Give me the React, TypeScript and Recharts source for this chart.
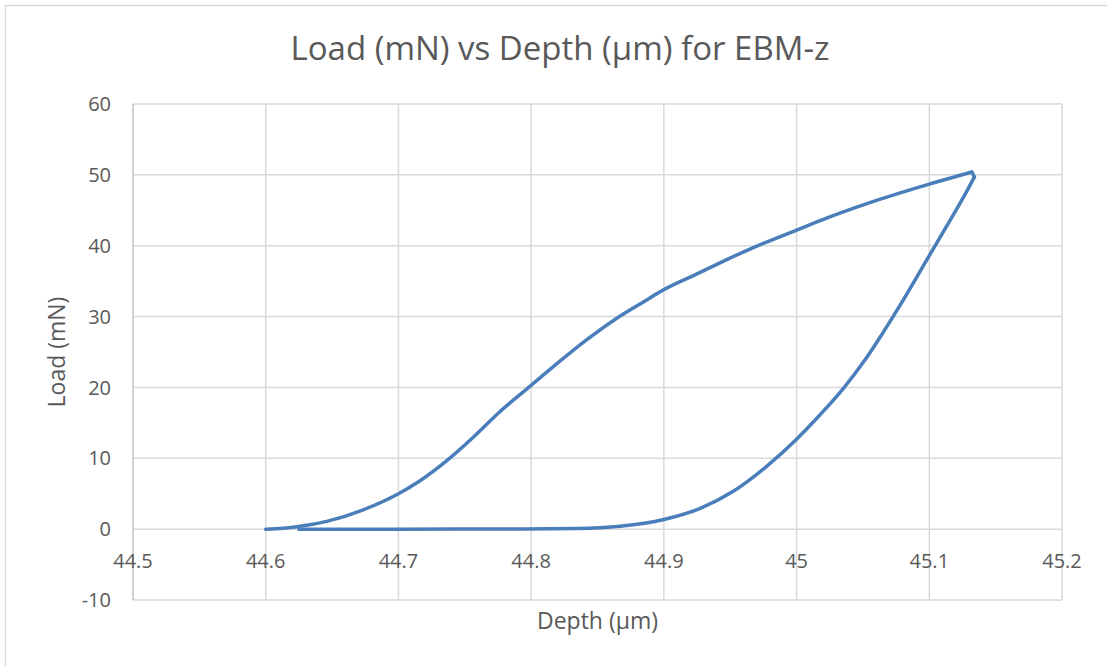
import React from "react";
import {
  CartesianGrid,
  Scatter,
  ScatterChart,
  XAxis,
  YAxis,
} from "recharts";

// loading branch (depth in µm, load in mN)
const loadingDepth = [
  44.6, 44.613, 44.626, 44.646, 44.673, 44.7, 44.716, 44.736, 44.756, 44.776,
  44.8, 44.821, 44.841, 44.864, 44.884, 44.9, 44.927, 44.947, 44.967, 45.0,
  45.027, 45.062, 45.1, 45.132,
];
const loadingLoad = [
  0, 0.12, 0.4, 1.1, 2.7, 5.0, 6.8, 9.6, 12.9, 16.5, 20.3, 23.6, 26.6, 29.7,
  32.0, 33.8, 36.2, 38.0, 39.7, 42.2, 44.2, 46.5, 48.7, 50.4,
];

// unloading branch
const unloadingDepth = [
  45.134, 45.128, 45.117, 45.1, 45.077, 45.065, 45.052, 45.035, 45.017, 45.0,
  44.977, 44.952, 44.927, 44.9, 44.867, 44.834, 44.78, 44.7, 44.625,
];
const unloadingLoad = [
  49.7, 47.6, 44.0, 38.6, 31.3, 27.7, 24.0, 19.8, 16.0, 12.7, 8.8, 5.3, 2.9,
  1.37, 0.42, 0.1, 0.02, 0, 0,
];

const xTicks = [44.5, 44.6, 44.7, 44.8, 44.9, 45, 45.1, 45.2];
const yTicks = [-10, 0, 10, 20, 30, 40, 50, 60];

const loadingCurve = loadingDepth.map((d, i) => ({
  depth: d,
  load: loadingLoad[i],
}));
const unloadingPoints = unloadingDepth.map((d, i) => ({
  depth: d,
  load: unloadingLoad[i],
}));
// drawn left-to-right so the smoothing stays monotone in x
const unloadingCurve = [...unloadingPoints].reverse();
// short hook between the peak and the start of unloading
const tipCurve = [loadingCurve[loadingCurve.length - 1], unloadingPoints[0]];

const W = 1107;
const H = 666;
const MARGIN = { top: 104, right: 45, bottom: 0, left: 0 };
const Y_AXIS_W = 133;
const X_AXIS_H = 66;
const PLOT_H = H - MARGIN.top - X_AXIS_H;
const Y_MIN = -10;
const Y_MAX = 60;
// horizontal axis crosses at load = 0, like the Excel original
const ZERO_Y = MARGIN.top + (PLOT_H * Y_MAX) / (Y_MAX - Y_MIN);

const FONT = "'Open Sans', 'Noto Sans', sans-serif";
const TEXT = "#595959";
const GRID = "#d9d9d9";
const BLUE = "#4a7ebb";

const lineStyle = {
  stroke: BLUE,
  strokeWidth: 3.5,
  strokeLinejoin: "round" as const,
  strokeLinecap: "round" as const,
};

function XTick(props: any) {
  const { x, payload } = props;
  return (
    <text
      x={x}
      y={ZERO_Y + 39}
      textAnchor="middle"
      fill={TEXT}
      fontSize={20}
      fontFamily={FONT}
    >
      {payload.value}
    </text>
  );
}

function YTick(props: any) {
  const { x, y, payload } = props;
  return (
    <text
      x={x}
      y={y}
      dy="0.36em"
      textAnchor="end"
      fill={TEXT}
      fontSize={20}
      fontFamily={FONT}
    >
      {payload.value}
    </text>
  );
}

export default function App() {
  return (
    <div
      style={{
        position: "absolute",
        left: 0,
        top: 0,
        width: W,
        height: H,
        background: "#fff",
        overflow: "hidden",
      }}
    >
      <svg
        width={W}
        height={H}
        style={{ position: "absolute", left: 0, top: 0 }}
      >
        <rect
          x={5.5}
          y={5.5}
          width={W + 10}
          height={H + 10}
          fill="none"
          stroke={GRID}
          strokeWidth={1.5}
        />
        <text
          x={560}
          y={60}
          textAnchor="middle"
          fill={TEXT}
          fontSize={33}
          fontFamily={FONT}
        >
          Load (mN) vs Depth (µm) for EBM-z
        </text>
      </svg>
      <div style={{ position: "absolute", left: 0, top: 0 }}>
        <ScatterChart width={W} height={H} margin={MARGIN}>
          <CartesianGrid stroke={GRID} strokeWidth={1.5} />
          <XAxis
            type="number"
            dataKey="depth"
            domain={[44.5, 45.2]}
            ticks={xTicks}
            height={X_AXIS_H}
            axisLine={false}
            tickLine={false}
            tickSize={0}
            tick={<XTick />}
            interval={0}
            allowDataOverflow
            label={{
              content: ({ viewBox }: any) => (
                <text
                  x={viewBox.x + viewBox.width / 2}
                  y={viewBox.y + 28.5}
                  textAnchor="middle"
                  fill={TEXT}
                  fontSize={23}
                  fontFamily={FONT}
                >
                  Depth (µm)
                </text>
              ),
            }}
          />
          <YAxis
            type="number"
            dataKey="load"
            domain={[Y_MIN, Y_MAX]}
            ticks={yTicks}
            width={Y_AXIS_W}
            axisLine={{ stroke: "#c8c8c8", strokeWidth: 1.5 }}
            tickLine={false}
            tickSize={0}
            tickMargin={22}
            tick={<YTick />}
            interval={0}
            allowDataOverflow
            label={{
              content: ({ viewBox }: any) => {
                const cx = viewBox.x + 64.5;
                const cy = viewBox.y + viewBox.height / 2;
                return (
                  <text
                    x={cx}
                    y={cy}
                    transform={`rotate(-90 ${cx} ${cy})`}
                    textAnchor="middle"
                    fill={TEXT}
                    fontSize={23}
                    fontFamily={FONT}
                  >
                    Load (mN)
                  </text>
                );
              },
            }}
          />
          <Scatter
            data={loadingCurve}
            line={lineStyle}
            lineType="joint"
            lineJointType="monotoneX"
            shape={() => <g />}
            isAnimationActive={false}
          />
          <Scatter
            data={tipCurve}
            line={lineStyle}
            lineType="joint"
            lineJointType="linear"
            shape={() => <g />}
            isAnimationActive={false}
          />
          <Scatter
            data={unloadingCurve}
            line={lineStyle}
            lineType="joint"
            lineJointType="monotoneX"
            shape={() => <g />}
            isAnimationActive={false}
          />
        </ScatterChart>
      </div>
    </div>
  );
}
